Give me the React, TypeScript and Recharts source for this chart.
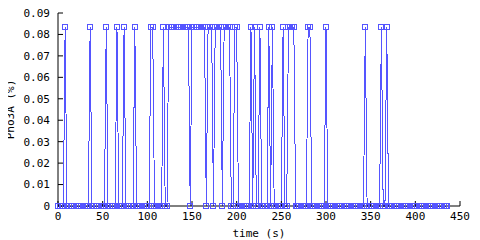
import React from "react";
import { LineChart, Line, XAxis, YAxis } from "recharts";

const H = 0.0833;

const times = [
  0, 2, 4, 6, 8, 10, 12, 14, 16, 18, 20, 22, 24, 26, 28, 30, 32, 34, 36, 38,
  40, 42, 44, 46, 48, 50, 52, 54, 56, 58, 60, 62, 64, 66, 68, 70, 72, 74, 76, 78,
  80, 82, 84, 86, 88, 90, 92, 94, 96, 98, 100, 102, 104, 106, 108, 110, 112, 114, 116, 118,
  120, 122, 124, 126, 128, 130, 132, 134, 136, 138, 140, 142, 144, 146, 148, 150, 152, 154, 156, 158,
  160, 162, 164, 166, 168, 170, 172, 174, 176, 178, 180, 182, 184, 186, 188, 190, 192, 194, 196, 198,
  200, 202, 204, 206, 208, 210, 212, 214, 216, 218, 220, 222, 224, 226, 228, 230, 232, 234, 236, 238,
  240, 242, 244, 246, 248, 250, 252, 254, 256, 258, 260, 262, 264, 266, 268, 270, 272, 274, 276, 278,
  280, 282, 284, 286, 288, 290, 292, 294, 296, 298, 300, 302, 304, 306, 308, 310, 312, 314, 316, 318,
  320, 322, 324, 326, 328, 330, 332, 334, 336, 338, 340, 342, 344, 346, 348, 350, 352, 354, 356, 358,
  360, 362, 364, 366, 368, 370, 372, 374, 376, 378, 380, 382, 384, 386, 388, 390, 392, 394, 396, 398,
  400, 402, 404, 406, 408, 410, 412, 414, 416, 418, 420, 422, 424, 426, 428, 430, 432, 434, 436,
];

const pho3a = [
  0, 0, 0, 0, H, 0, 0, 0, 0, 0, 0, 0, 0, 0, 0, 0, 0, 0, H, 0,
  0, 0, 0, 0, 0, 0, 0, H, 0, 0, 0, 0, 0, H, 0, 0, 0, H, 0, 0,
  0, 0, 0, H, 0, 0, 0, 0, 0, 0, 0, 0, H, H, 0, 0, 0, 0, 0, H,
  0, 0, H, H, H, H, H, H, H, H, H, H, H, H, 0, H, H, H, H, H,
  H, H, H, 0, H, H, H, 0, H, H, H, H, 0, H, H, H, H, 0, 0, H,
  H, 0, 0, 0, 0, 0, 0, 0, H, 0, H, 0, 0, H, 0, 0, 0, 0, H, 0,
  H, 0, 0, 0, 0, 0, H, 0, 0, H, H, H, H, 0, 0, 0, 0, 0, 0, 0,
  H, H, 0, 0, 0, 0, 0, 0, 0, 0, H, 0, 0, 0, 0, 0, 0, 0, 0, 0,
  0, 0, 0, 0, 0, 0, 0, 0, 0, 0, 0, 0, H, 0, 0, 0, 0, 0, 0, 0,
  0, H, 0, 0, H, 0, 0, 0, 0, 0, 0, 0, 0, 0, 0, 0, 0, 0, 0, 0,
  0, 0, 0, 0, 0, 0, 0, 0, 0, 0, 0, 0, 0, 0, 0, 0, 0, 0, 0,
];

const xTicks = [0, 50, 100, 150, 200, 250, 300, 350, 400, 450];
const yTicks = [0, 0.01, 0.02, 0.03, 0.04, 0.05, 0.06, 0.07, 0.08, 0.09];

const data = times.map((t, i) => ({ t, v: pho3a[i] }));

const BLUE = "#5555ff";
const font = { fontFamily: "DejaVu Sans Mono", fontSize: 11, fill: "#000" };

const square = (p: any) => {
  const x = Math.round(p.cx) - 2.5;
  const y = Math.round(p.cy) - 2.5;
  return (
    <rect
      key={`sq-${p.index}`}
      x={x}
      y={y}
      width={5}
      height={5}
      fill="none"
      stroke={BLUE}
      strokeWidth={1}
      shapeRendering="crispEdges"
    />
  );
};

// rotated y title, drawn left of the tick labels
const yLabel = (p: any) => {
  const vb = p.viewBox;
  const cy = vb.y + vb.height / 2;
  return (
    <text
      x={10}
      y={cy}
      transform={`rotate(-90, 10, ${cy})`}
      textAnchor="middle"
      dominantBaseline="central"
      style={font}
    >
      Pho3A (%)
    </text>
  );
};

export default function App() {
  return (
    <div style={{ margin: "-8px 0 0 -8px", width: 480, height: 240 }}>
      <LineChart
        width={480}
        height={240}
        data={data}
        margin={{ top: 13, right: 20, bottom: 0, left: 8 }}
      >
        <XAxis
          xAxisId="b"
          dataKey="t"
          type="number"
          domain={[0, 450]}
          ticks={xTicks}
          height={34}
          tickSize={-5}
          tickMargin={11}
          tick={font}
          stroke="#000"
          label={{
            value: "time (s)",
            position: "insideBottom",
            offset: 3,
            style: font,
          }}
        />
        <XAxis
          xAxisId="t"
          dataKey="t"
          type="number"
          orientation="top"
          domain={[0, 450]}
          ticks={xTicks}
          height={0}
          tickSize={-5}
          tickFormatter={() => ""}
          stroke="#000"
        />
        <YAxis
          yAxisId="l"
          type="number"
          domain={[0, 0.09]}
          ticks={yTicks}
          width={50}
          tickSize={-5}
          tickMargin={13}
          tick={font}
          tickFormatter={(v: number) => (v === 0 ? "0" : v.toFixed(2))}
          stroke="#000"
          label={yLabel}
        />
        <YAxis
          yAxisId="r"
          orientation="right"
          type="number"
          domain={[0, 0.09]}
          ticks={yTicks}
          width={0}
          tickSize={-5}
          tickFormatter={() => ""}
          stroke="#000"
        />
        <Line
          xAxisId="b"
          yAxisId="l"
          type="linear"
          dataKey="v"
          stroke={BLUE}
          strokeWidth={1}
          dot={square}
          activeDot={false}
          isAnimationActive={false}
          style={{ shapeRendering: "crispEdges" }}
        />
      </LineChart>
    </div>
  );
}
